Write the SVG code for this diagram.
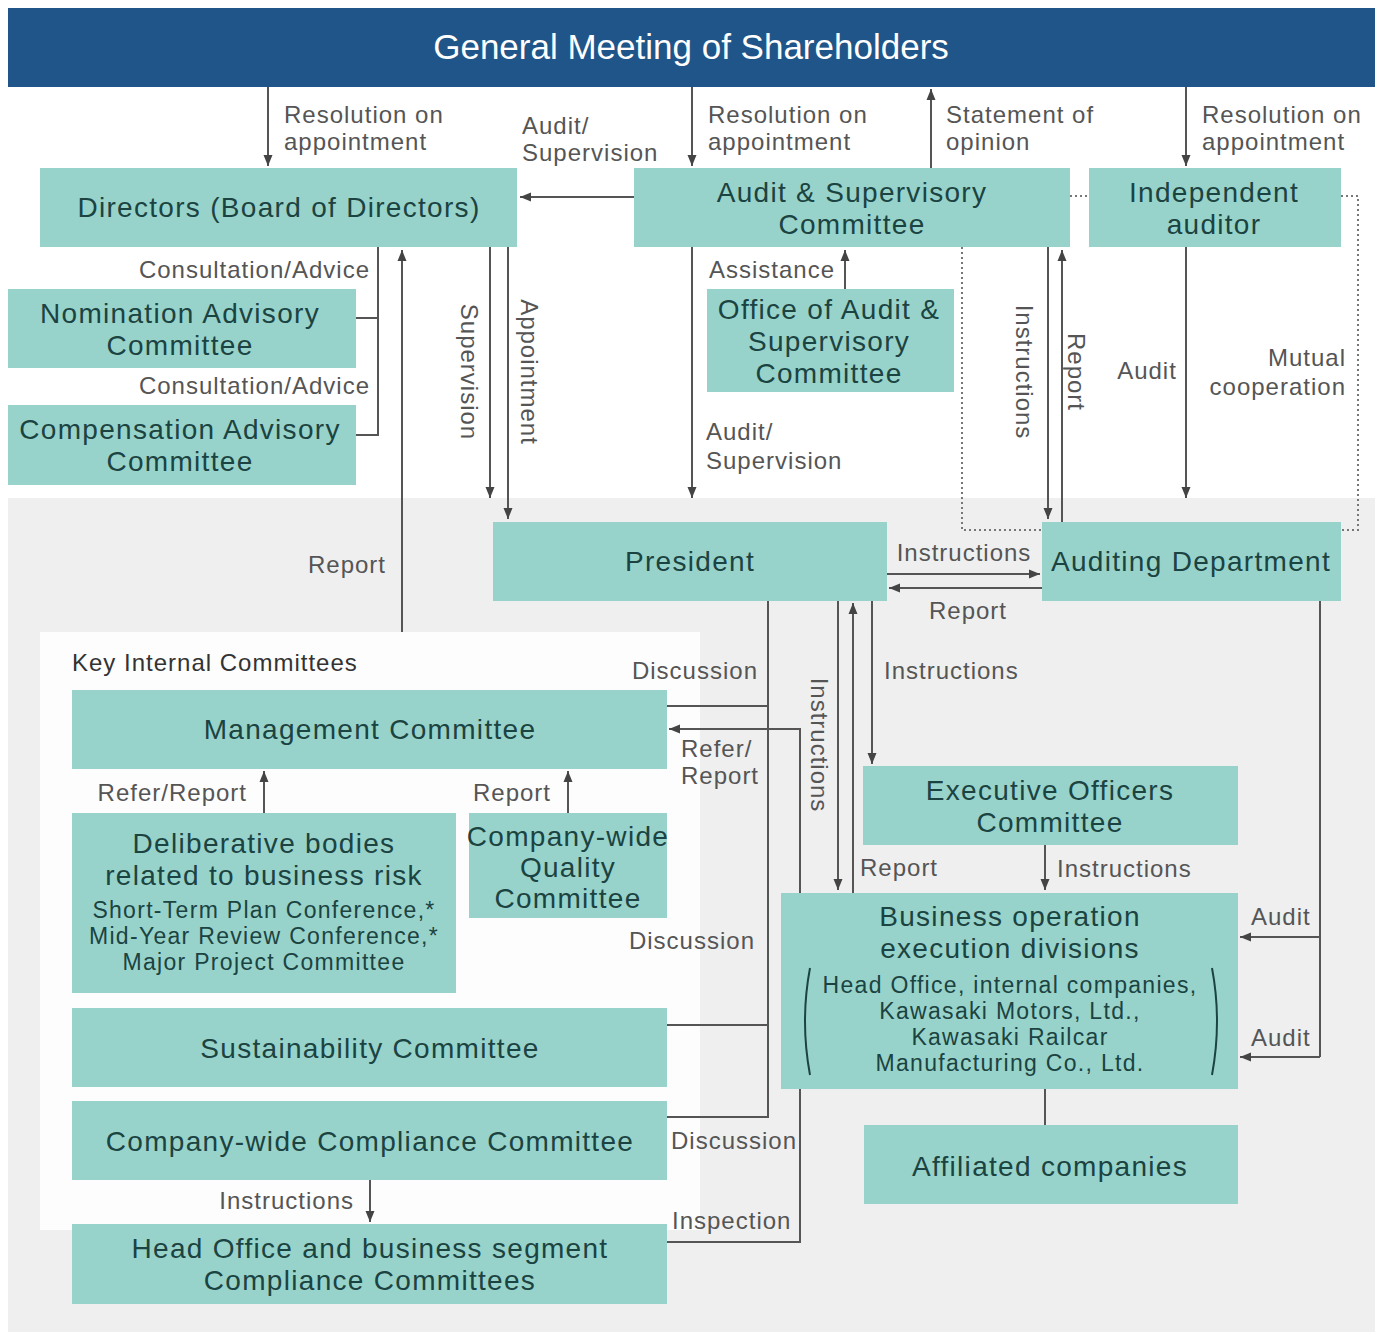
<svg xmlns="http://www.w3.org/2000/svg" width="1383" height="1335" viewBox="0 0 1383 1335">
<style>
.box{fill:#98d3cb}
.nt{font-family:"Liberation Sans",Arial,sans-serif;font-size:28px;letter-spacing:1.3px;fill:#1b4341;text-anchor:middle}
.ns{font-family:"Liberation Sans",Arial,sans-serif;font-size:23px;letter-spacing:1.3px;fill:#1b4341;text-anchor:middle}
.lb{font-family:"Liberation Sans",Arial,sans-serif;font-size:24px;letter-spacing:1px;fill:#555}
.ln{fill:none;stroke:#555;stroke-width:2}
.dot{fill:none;stroke:#777;stroke-width:2;stroke-dasharray:2 3}
.ar{marker-end:url(#ah)}
</style>
<defs>
<marker id="ah" markerUnits="userSpaceOnUse" markerWidth="12" markerHeight="12" refX="11" refY="6" orient="auto">
<path d="M0,1.5 L11,6 L0,10.5 z" fill="#444"/>
</marker>
</defs>
<rect x="0" y="0" width="1383" height="1335" fill="#fff"/>
<rect x="8" y="498" width="1367" height="834" fill="#efefef"/>
<rect x="40" y="632" width="660" height="598" fill="#fdfdfd"/>

<g id="gms">
<rect x="8" y="8" width="1367" height="79" fill="#1f5588"/>
<text x="691" y="59" font-family="Liberation Sans, Arial, sans-serif" font-size="35" fill="#fff" text-anchor="middle">General Meeting of Shareholders</text>
</g>

<g id="connectors">
<line class="ln ar" x1="268" y1="87" x2="268" y2="166"/>
<line class="ln ar" x1="692" y1="87" x2="692" y2="166"/>
<line class="ln ar" x1="931" y1="168" x2="931" y2="89"/>
<line class="ln ar" x1="1186" y1="87" x2="1186" y2="166"/>
<line class="ln ar" x1="634" y1="197" x2="520" y2="197"/>
<polyline class="ln" points="356,318 378,318"/>
<polyline class="ln" points="356,435 378,435 378,247"/>
<line class="ln ar" x1="402" y1="632" x2="402" y2="250"/>
<line class="ln ar" x1="490" y1="247" x2="490" y2="498"/>
<line class="ln ar" x1="508" y1="247" x2="508" y2="519"/>
<line class="ln ar" x1="692" y1="247" x2="692" y2="498"/>
<line class="ln ar" x1="845" y1="289" x2="845" y2="250"/>
<line class="ln ar" x1="1048" y1="247" x2="1048" y2="519"/>
<line class="ln ar" x1="1062" y1="522" x2="1062" y2="250"/>
<line class="ln ar" x1="1186" y1="247" x2="1186" y2="498"/>
<line class="dot" x1="1070" y1="196" x2="1089" y2="196"/>
<polyline class="dot" points="1341,196 1358,196 1358,530 1341,530"/>
<polyline class="dot" points="962,247 962,530 1042,530"/>
<line class="ln ar" x1="887" y1="574" x2="1040" y2="574"/>
<line class="ln ar" x1="1042" y1="588" x2="889" y2="588"/>
<polyline class="ln" points="768,601 768,1117 667,1117"/>
<line class="ln" x1="667" y1="706" x2="768" y2="706"/>
<line class="ln" x1="667" y1="1025" x2="768" y2="1025"/>
<line class="ln ar" x1="838" y1="601" x2="838" y2="890"/>
<line class="ln ar" x1="853" y1="893" x2="853" y2="603"/>
<line class="ln ar" x1="872" y1="601" x2="872" y2="764"/>
<line class="ln ar" x1="1045" y1="845" x2="1045" y2="890"/>
<polyline class="ln ar" points="800,893 800,729 669,729"/>
<polyline class="ln" points="800,1089 800,1242 667,1242"/>
<line class="ln ar" x1="264" y1="813" x2="264" y2="771"/>
<line class="ln ar" x1="568" y1="813" x2="568" y2="771"/>
<line class="ln ar" x1="370" y1="1180" x2="370" y2="1222"/>
<polyline class="ln" points="1320,601 1320,1057"/>
<line class="ln ar" x1="1320" y1="937" x2="1240" y2="937"/>
<line class="ln ar" x1="1320" y1="1057" x2="1240" y2="1057"/>
<line class="ln" x1="1045" y1="1089" x2="1045" y2="1125"/>
</g>

<g id="labels">
<text class="lb" x="284" y="123">Resolution on</text>
<text class="lb" x="284" y="150">appointment</text>
<text class="lb" x="522" y="134">Audit/</text>
<text class="lb" x="522" y="161">Supervision</text>
<text class="lb" x="708" y="123">Resolution on</text>
<text class="lb" x="708" y="150">appointment</text>
<text class="lb" x="946" y="123">Statement of</text>
<text class="lb" x="946" y="150">opinion</text>
<text class="lb" x="1202" y="123">Resolution on</text>
<text class="lb" x="1202" y="150">appointment</text>
<text class="lb" x="370" y="278" text-anchor="end">Consultation/Advice</text>
<text class="lb" x="370" y="394" text-anchor="end">Consultation/Advice</text>
<text class="lb" x="709" y="278">Assistance</text>
<text class="lb" x="706" y="440">Audit/</text>
<text class="lb" x="706" y="469">Supervision</text>
<text class="lb" x="1147" y="379" text-anchor="middle">Audit</text>
<text class="lb" x="1346" y="366" text-anchor="end">Mutual</text>
<text class="lb" x="1346" y="395" text-anchor="end">cooperation</text>
<text class="lb" x="386" y="573" text-anchor="end">Report</text>
<text class="lb" x="964" y="561" text-anchor="middle">Instructions</text>
<text class="lb" x="968" y="619" text-anchor="middle">Report</text>
<text x="72" y="671" font-family="Liberation Sans, Arial, sans-serif" font-size="24" fill="#333" letter-spacing="1">Key Internal Committees</text>
<text class="lb" x="758" y="679" text-anchor="end">Discussion</text>
<text class="lb" x="884" y="679">Instructions</text>
<text class="lb" x="681" y="757">Refer/</text>
<text class="lb" x="681" y="784">Report</text>
<text class="lb" x="247" y="801" text-anchor="end">Refer/Report</text>
<text class="lb" x="551" y="801" text-anchor="end">Report</text>
<text class="lb" x="860" y="876">Report</text>
<text class="lb" x="1057" y="877">Instructions</text>
<text class="lb" x="755" y="949" text-anchor="end">Discussion</text>
<text class="lb" x="1251" y="925">Audit</text>
<text class="lb" x="1251" y="1046">Audit</text>
<text class="lb" x="671" y="1149">Discussion</text>
<text class="lb" x="354" y="1209" text-anchor="end">Instructions</text>
<text class="lb" x="672" y="1229">Inspection</text>
<text class="lb" text-anchor="middle" transform="translate(461,372) rotate(90)">Supervision</text>
<text class="lb" text-anchor="middle" transform="translate(521,372) rotate(90)">Appointment</text>
<text class="lb" text-anchor="middle" transform="translate(1016,372) rotate(90)">Instructions</text>
<text class="lb" text-anchor="middle" transform="translate(1068,372) rotate(90)">Report</text>
<text class="lb" text-anchor="middle" transform="translate(811,745) rotate(90)">Instructions</text>
</g>

<g id="directors">
<rect class="box" x="40" y="168" width="477" height="79"/>
<text class="nt" x="279" y="217">Directors (Board of Directors)</text>
</g>
<g id="audit-supervisory-committee">
<rect class="box" x="634" y="168" width="436" height="79"/>
<text class="nt" x="852" y="202">Audit &amp; Supervisory</text>
<text class="nt" x="852" y="234">Committee</text>
</g>
<g id="independent-auditor">
<rect class="box" x="1089" y="168" width="252" height="79"/>
<text class="nt" x="1214" y="202">Independent</text>
<text class="nt" x="1214" y="234">auditor</text>
</g>
<g id="nomination">
<rect class="box" x="8" y="289" width="348" height="79"/>
<text class="nt" x="180" y="323">Nomination Advisory</text>
<text class="nt" x="180" y="355">Committee</text>
</g>
<g id="compensation">
<rect class="box" x="8" y="405" width="348" height="80"/>
<text class="nt" x="180" y="439">Compensation Advisory</text>
<text class="nt" x="180" y="471">Committee</text>
</g>
<g id="office-audit">
<rect class="box" x="707" y="289" width="247" height="103"/>
<text class="nt" x="829" y="319">Office of Audit &amp;</text>
<text class="nt" x="829" y="351">Supervisory</text>
<text class="nt" x="829" y="383">Committee</text>
</g>
<g id="president">
<rect class="box" x="493" y="522" width="394" height="79"/>
<text class="nt" x="690" y="571">President</text>
</g>
<g id="auditing-department">
<rect class="box" x="1042" y="522" width="299" height="79"/>
<text class="nt" x="1191" y="571" letter-spacing="0.6">Auditing Department</text>
</g>
<g id="management-committee">
<rect class="box" x="72" y="690" width="595" height="79"/>
<text class="nt" x="370" y="739">Management Committee</text>
</g>
<g id="deliberative-bodies">
<rect class="box" x="72" y="813" width="384" height="180"/>
<text class="nt" x="264" y="853">Deliberative bodies</text>
<text class="nt" x="264" y="885">related to business risk</text>
<text class="ns" x="264" y="918">Short-Term Plan Conference,*</text>
<text class="ns" x="264" y="944">Mid-Year Review Conference,*</text>
<text class="ns" x="264" y="970">Major Project Committee</text>
</g>
<g id="quality-committee">
<rect class="box" x="469" y="813" width="198" height="105"/>
<text class="nt" x="568" y="846" letter-spacing="0.3">Company-wide</text>
<text class="nt" x="568" y="877">Quality</text>
<text class="nt" x="568" y="908">Committee</text>
</g>
<g id="sustainability-committee">
<rect class="box" x="72" y="1008" width="595" height="79"/>
<text class="nt" x="370" y="1058">Sustainability Committee</text>
</g>
<g id="compliance-committee">
<rect class="box" x="72" y="1101" width="595" height="79"/>
<text class="nt" x="370" y="1151">Company-wide Compliance Committee</text>
</g>
<g id="segment-compliance">
<rect class="box" x="72" y="1224" width="595" height="80"/>
<text class="nt" x="370" y="1258">Head Office and business segment</text>
<text class="nt" x="370" y="1290">Compliance Committees</text>
</g>
<g id="executive-officers">
<rect class="box" x="863" y="766" width="375" height="79"/>
<text class="nt" x="1050" y="800">Executive Officers</text>
<text class="nt" x="1050" y="832">Committee</text>
</g>
<g id="business-operation">
<rect class="box" x="781" y="893" width="457" height="196"/>
<text class="nt" x="1010" y="926">Business operation</text>
<text class="nt" x="1010" y="958">execution divisions</text>
<text class="ns" x="1010" y="993">Head Office, internal companies,</text>
<text class="ns" x="1010" y="1019">Kawasaki Motors, Ltd.,</text>
<text class="ns" x="1010" y="1045">Kawasaki Railcar</text>
<text class="ns" x="1010" y="1071">Manufacturing Co., Ltd.</text>
<path d="M810,968 Q800,1021 810,1075" fill="none" stroke="#1b4341" stroke-width="2"/>
<path d="M1212,968 Q1222,1021 1212,1075" fill="none" stroke="#1b4341" stroke-width="2"/>
</g>
<g id="affiliated-companies">
<rect class="box" x="864" y="1125" width="374" height="79"/>
<text class="nt" x="1050" y="1176">Affiliated companies</text>
</g>
</svg>
